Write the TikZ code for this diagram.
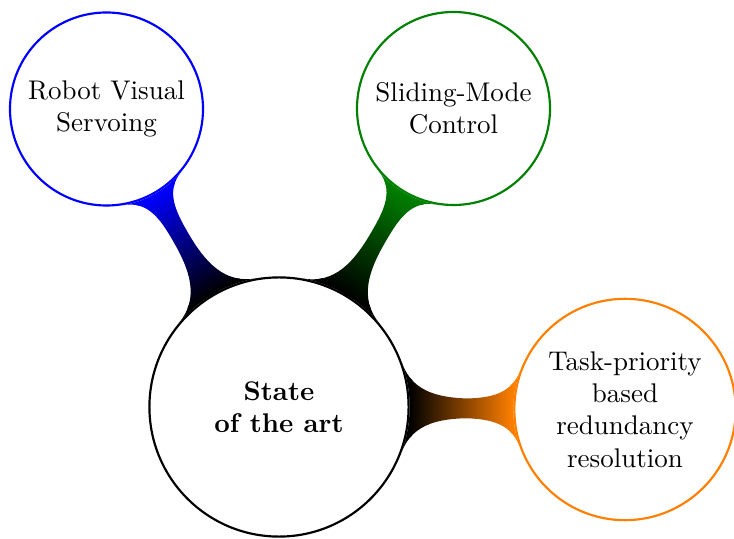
\documentclass[tikz,border=0pt]{standalone}
\usetikzlibrary{mindmap,backgrounds}
\colorlet{smcgreen}{green!50!black}
\begin{document}
\begin{tikzpicture}[x=0.3704pt, y=-0.3704pt,
		every node/.style = {shape=circle, draw, fill=white, thick, align=center, inner sep=0pt},
		root/.style = {minimum size=96pt, font=\bfseries},
		topic/.style = {minimum size=71.5pt}]
		\useasboundingbox (0,0) rectangle (734,539);
		
		\node[root] (soa) at (279,407) {State\\of the art};
		\node[topic, draw=blue] (rvs) at (106.5,109) {Robot Visual\\Servoing};
		\node[topic, draw=smcgreen] (smc) at (453.5,108.5) {Sliding-Mode\\Control};
		\node[topic, draw=orange, minimum size=82pt] (tpr) at (625,409.5) {Task-priority\\based\\redundancy\\resolution};
		
		% bars go behind the circles
		\begin{scope}[on background layer, decoration={start radius=48pt, end radius=36pt}]
			\path (soa) to[circle connection bar switch color=from (black) to (blue)] (rvs);
			\path (soa) to[circle connection bar switch color=from (black) to (smcgreen)] (smc);
			\path (soa) to[circle connection bar switch color=from (black) to (orange), decoration={end radius=41pt}] (tpr);
		\end{scope}
\end{tikzpicture}
\end{document}
